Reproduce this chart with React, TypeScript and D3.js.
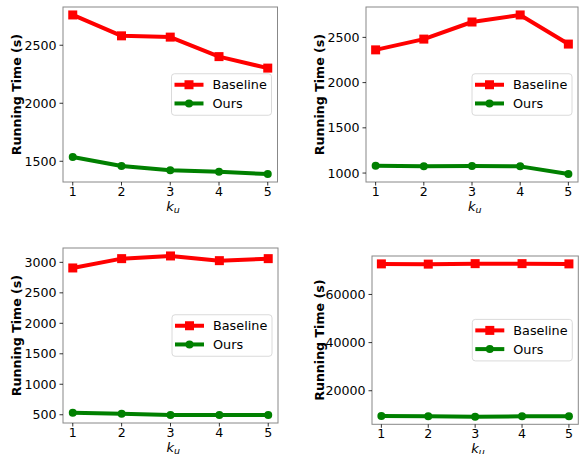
import React from "react";
import * as d3 from "d3";

const ku = [1, 2, 3, 4, 5];
const baseline1 = [2761, 2581, 2570, 2402, 2303];
const ours1 = [1537, 1459, 1422, 1410, 1390];
const baseline2 = [2362, 2481, 2670, 2748, 2426];
const ours2 = [1081, 1074, 1078, 1074, 989];
const baseline3 = [2908, 3061, 3105, 3028, 3061];
const ours3 = [533, 516, 495, 495, 495];
const baseline4 = [72700, 72600, 72800, 72800, 72700];
const ours4 = [9520, 9380, 9240, 9380, 9380];
const yTicks1 = [1500, 2000, 2500];
const yTicks2 = [1000, 1500, 2000, 2500];
const yTicks3 = [500, 1000, 1500, 2000, 2500, 3000];
const yTicks4 = [20000, 40000, 60000];
const seriesNames = ["Baseline", "Ours"];
const yLabel = "Running Time (s)";

const RED = "#ff0000";
const GREEN = "#008000";
const FONT = "'DejaVu Sans', sans-serif";

type PanelProps = {
  box: { x0: number; x1: number; y0: number; y1: number; labelX: number };
  base: number[];
  ours: number[];
  yTicks: number[];
};

function Panel({ box, base, ours, yTicks }: PanelProps) {
  const x = d3.scaleLinear().domain([0.8, 5.2]).range([box.x0, box.x1]);
  const all = base.concat(ours);
  const mn = d3.min(all)!;
  const mx = d3.max(all)!;
  const m = (mx - mn) * 0.05;
  const y = d3.scaleLinear().domain([mn - m, mx + m]).range([box.y1, box.y0]);
  const line = d3
    .line<number>()
    .x((_, i) => x(ku[i]))
    .y((d) => y(d));
  const cy = (box.y0 + box.y1) / 2;
  const lw = 100;
  const lh = 41.5;
  const lx = box.x1 - 6 - lw;
  const ly = cy - lh / 2;
  const xlabY = box.y1 + 28.5;
  return (
    <g>
      <rect
        x={box.x0}
        y={box.y0}
        width={box.x1 - box.x0}
        height={box.y1 - box.y0}
        fill="white"
        stroke="#888"
        strokeWidth={1}
      />
      {ku.map((k) => (
        <g key={"x" + k}>
          <line x1={x(k)} x2={x(k)} y1={box.y1} y2={box.y1 + 3.5} stroke="#000" strokeWidth={0.8} />
          <text x={x(k)} y={box.y1 + 14} textAnchor="middle" fontSize={12.6} fontFamily={FONT} fill="#000">
            {k}
          </text>
        </g>
      ))}
      {yTicks.map((t) => (
        <g key={"y" + t}>
          <line x1={box.x0 - 3.5} x2={box.x0} y1={y(t)} y2={y(t)} stroke="#000" strokeWidth={0.8} />
          <text
            x={box.x0 - 6.5}
            y={y(t)}
            dy="0.36em"
            textAnchor="end"
            fontSize={12.6}
            fontFamily={FONT}
            fill="#000"
          >
            {t}
          </text>
        </g>
      ))}
      <text
        transform={`translate(${box.labelX},${cy}) rotate(-90)`}
        textAnchor="middle"
        dy="0.36em"
        fontSize={12.6}
        fontWeight="bold"
        fontFamily={FONT}
        fill="#000"
      >
        {yLabel}
      </text>
      <text
        x={(box.x0 + box.x1) / 2 - 4}
        y={xlabY}
        fontSize={13}
        fontStyle="italic"
        fontFamily={FONT}
        fill="#000"
      >
        k
        <tspan fontSize={9.5} dy={2.5}>
          u
        </tspan>
      </text>
      <path d={line(base)!} fill="none" stroke={RED} strokeWidth={4} strokeLinejoin="round" />
      {base.map((v, i) => (
        <rect key={"b" + i} x={x(ku[i]) - 4.5} y={y(v) - 4.5} width={9} height={9} fill={RED} />
      ))}
      <path d={line(ours)!} fill="none" stroke={GREEN} strokeWidth={4} strokeLinejoin="round" />
      {ours.map((v, i) => (
        <circle key={"o" + i} cx={x(ku[i])} cy={y(v)} r={4} fill={GREEN} />
      ))}
      <rect x={lx} y={ly} width={lw} height={lh} rx={3} fill="white" fillOpacity={0.8} stroke="#d0d0d0" strokeWidth={0.8} />
      {seriesNames.map((name, i) => {
        const ry = ly + 11 + i * 18.7;
        const col = i === 0 ? RED : GREEN;
        return (
          <g key={name}>
            <line x1={lx + 3} x2={lx + 32} y1={ry} y2={ry} stroke={col} strokeWidth={4} />
            {i === 0 ? (
              <rect x={lx + 17.5 - 4.5} y={ry - 4.5} width={9} height={9} fill={col} />
            ) : (
              <circle cx={lx + 17.5} cy={ry} r={4} fill={col} />
            )}
            <text x={lx + 41} y={ry} dy="0.36em" fontSize={12.8} fontFamily={FONT} fill="#000">
              {name}
            </text>
          </g>
        );
      })}
    </g>
  );
}

export default function App() {
  return (
    <svg
      width={581}
      height={454}
      style={{ position: "absolute", left: 0, top: 0, background: "white" }}
    >
      <rect width={581} height={454} fill="white" />
      <Panel box={{ x0: 63, x1: 277.5, y0: 7, y1: 182, labelX: 16 }} base={baseline1} ours={ours1} yTicks={yTicks1} />
      <Panel box={{ x0: 366, x1: 578, y0: 7, y1: 182, labelX: 319 }} base={baseline2} ours={ours2} yTicks={yTicks2} />
      <Panel box={{ x0: 63, x1: 278, y0: 248, y1: 423, labelX: 16 }} base={baseline3} ours={ours3} yTicks={yTicks3} />
      <Panel box={{ x0: 372, x1: 578.3, y0: 256, y1: 424.3, labelX: 319 }} base={baseline4} ours={ours4} yTicks={yTicks4} />
    </svg>
  );
}
